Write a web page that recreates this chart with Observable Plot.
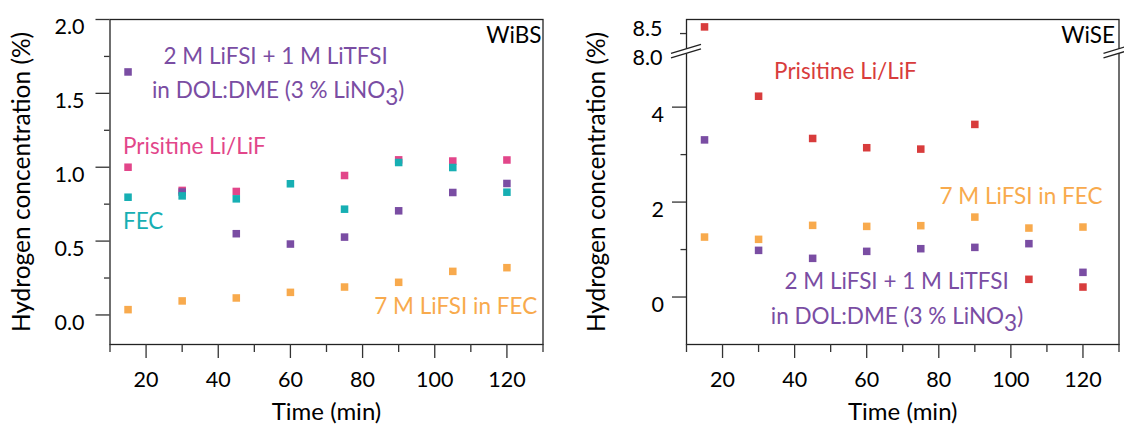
<!DOCTYPE html>
<html><head><meta charset="utf-8">
<script src="https://cdn.jsdelivr.net/npm/d3@7"></script>
<script src="https://cdn.jsdelivr.net/npm/@observablehq/plot@0.6"></script>
<style>
html,body{margin:0;padding:0;background:#fff;}
#wrap{display:flex;width:1124px;height:426px;overflow:hidden;}
#wrap svg{flex:none;}
</style></head><body><div id="wrap"></div>
<script>
// ---- data ----
const times = [15, 30, 45, 60, 75, 90, 105, 120];
// WiBS panel
const wibsDolDme   = [1.645, 0.832, 0.55, 0.48, 0.527, 0.705, 0.829, 0.89];
const wibsPristine = [1.0, 0.843, 0.836, null, 0.944, 1.05, 1.042, 1.049];
const wibsFec      = [0.797, 0.806, 0.786, 0.888, 0.716, 1.032, 0.998, 0.831];
const wibs7M       = [0.036, 0.095, 0.115, 0.153, 0.189, 0.221, 0.295, 0.32];
// WiSE panel
const wisePristine = [8.64, 4.23, 3.34, 3.145, 3.116, 3.636, 0.373, 0.21];
const wiseDolDme   = [3.31, 0.983, 0.815, 0.962, 1.018, 1.046, 1.124, 0.52];
const wise7M       = [1.263, 1.215, 1.51, 1.488, 1.503, 1.684, 1.453, 1.474];
// ticks
const xMajor = [20, 40, 60, 80, 100, 120];
const xMinor = [10, 30, 50, 70, 90, 110, 130];
const wibsYMajor = [0, 0.5, 1.0, 1.5, 2.0];
const wibsYMinor = [0.25, 0.75, 1.25, 1.75];
const wiseYMajor = [0, 2, 4];
const wiseYMinor = [1, 3];
const wiseYUpper = [8.5];
const wiseYBreakLabel = [8.0];
// labels
const wibsLabels = [
  {text: "WiBS", x: 129.6, y: 1.89, series: "black", anchor: "end"},
  {text: "2 M LiFSI + 1 M LiTFSI", x: 55.9, y: 1.748, series: "dol", anchor: "middle"},
  {text: "in DOL:DME (3 % LiNO3)", x: 56.6, y: 1.518, series: "dol", anchor: "middle"},
  {text: "Prisitine Li/LiF", x: 13.6, y: 1.14, series: "pristineW", anchor: "start"},
  {text: "FEC", x: 13.6, y: 0.633, series: "fec", anchor: "start"},
  {text: "7 M LiFSI in FEC", x: 128.4, y: 0.052, series: "m7", anchor: "end"}
];
const wiseLabels = [
  {text: "WiSE", x: 128.9, y: 8.46, series: "black", anchor: "end"},
  {text: "Prisitine Li/LiF", x: 34.3, y: 4.75, series: "pristineS", anchor: "start"},
  {text: "7 M LiFSI in FEC", x: 125.4, y: 2.105, series: "m7", anchor: "end"},
  {text: "2 M LiFSI + 1 M LiTFSI", x: 68.3, y: 0.316, series: "dol", anchor: "middle"},
  {text: "in DOL:DME (3 % LiNO3)", x: 68.4, y: -0.421, series: "dol", anchor: "middle"}
];
const xTitle = "Time (min)";
const yTitle = "Hydrogen concentration (%)";

// ---- styles ----
const colors = {dol: "#7a4da3", pristineW: "#e2468a", pristineS: "#d83c3c", fec: "#17afb3", m7: "#f8aa4d", black: "#000"};
const FONT = "Lato, 'Open Sans', sans-serif";
const breakShift = 2.95;      // values above the break are drawn shifted down by this
const breakAt = 5.17;         // break position in drawn units
const brk = v => v >= 6 ? v - breakShift : v;

function table(series, vals) {
  return times.map((t, i) => ({time: t, value: vals[i], color: colors[series]})).filter(d => d.value != null);
}

function axisMarks(yMajor, yMinor, yfmt, yLabelDx, yMap) {
  return [
    Plot.axisX(xMajor, {tickSize: 14, tickPadding: 13, label: null, stroke: "#333", strokeWidth: 1.3, fill: "black", fontSize: 21.5}),
    Plot.axisX(xMinor, {tickSize: 8, tickFormat: () => "", label: null, stroke: "#333", strokeWidth: 1.3}),
    Plot.axisY(yMajor.map(yMap), {tickSize: 14, tickFormat: () => "", label: null, stroke: "#333", strokeWidth: 1.3}),
    Plot.axisY(yMinor.map(yMap), {tickSize: 5.5, tickFormat: () => "", label: null, stroke: "#333", strokeWidth: 1.3}),
    Plot.text(yMajor, {y: yMap, frameAnchor: "left", textAnchor: "end", dx: yLabelDx, dy: 8, text: yfmt, fill: "black", fontSize: 21.5}),
    Plot.text([xTitle], {frameAnchor: "bottom", dy: 68, lineAnchor: "middle", text: d => d, fill: "black", fontSize: 24}),
  ];
}

function labelMarks(labels, yMap) {
  return ["start", "middle", "end"].map(a =>
    Plot.text(labels.filter(d => d.anchor === a), {x: "x", y: d => yMap(d.y), text: "text", textAnchor: a, fill: d => colors[d.series], lineAnchor: "middle", fontSize: 22.5})
  );
}

function fixSub(svg) {
  svg.querySelectorAll("text").forEach(t => {
    if (t.textContent === "in DOL:DME (3 % LiNO3)") {
      t.textContent = "in DOL:DME (3 % LiNO";
      const s = document.createElementNS("http://www.w3.org/2000/svg", "tspan");
      s.setAttribute("dy", "0.32em"); s.textContent = "3";
      const e = document.createElementNS("http://www.w3.org/2000/svg", "tspan");
      e.setAttribute("dy", "-0.32em"); e.textContent = ")";
      t.appendChild(s); t.appendChild(e);
    }
  });
}

const common = {
  width: 562, height: 426, marginTop: 19, marginBottom: 82,
  x: {domain: [10, 130]},
  color: {type: "identity"},
  style: {fontFamily: FONT, fontSize: "21.5px", color: "black", background: "white", overflow: "visible"}
};

// ---- left panel ----
const left = Plot.plot({
  ...common,
  marginLeft: 109.5, marginRight: 19.5,
  y: {domain: [-0.2, 2.0]},
  marks: [
    Plot.frame({stroke: "#222", strokeWidth: 1.3}),
    ...axisMarks(wibsYMajor, wibsYMinor, d => d3.format(".1f")(d), -25.5, d => d),
    Plot.text([yTitle], {frameAnchor: "left", textAnchor: "middle", dx: -87.5, rotate: -90, text: d => d, fill: "black", fontSize: 24.5}),
    Plot.dot(table("pristineW", wibsPristine), {x: "time", y: "value", fill: "color", symbol: "square", r: 4.25}),
    Plot.dot(table("dol", wibsDolDme), {x: "time", y: "value", fill: "color", symbol: "square", r: 4.25}),
    Plot.dot(table("fec", wibsFec), {x: "time", y: "value", fill: "color", symbol: "square", r: 4.25}),
    Plot.dot(table("m7", wibs7M), {x: "time", y: "value", fill: "color", symbol: "square", r: 4.25}),
    ...labelMarks(wibsLabels, d => d)
  ]
});

// ---- right panel ----
function breakMarks(index, scales, values, dims) {
  const ys = typeof scales.y === "function" ? scales.y : d3.scaleLinear([-1, 5.846], [dims.height - dims.marginBottom, dims.marginTop]);
  const y = ys(breakAt);
  const g = d3.create("svg:g");
  const xs = [dims.marginLeft, dims.width - dims.marginRight];
  for (const x0 of xs) {
    const half = 15, slope = 0.3, gap = 4.6;
    const yU = x => y - gap / 2 - (x - x0) * slope;
    const yL = x => y + gap / 2 - (x - x0) * slope;
    g.append("path")
      .attr("d", `M${x0 - half},${yU(x0 - half)}L${x0 + half},${yU(x0 + half)}L${x0 + half},${yL(x0 + half)}L${x0 - half},${yL(x0 - half)}Z`)
      .attr("fill", "white");
    for (const f of [yU, yL]) {
      g.append("line").attr("x1", x0 - half).attr("y1", f(x0 - half)).attr("x2", x0 + half).attr("y2", f(x0 + half))
        .attr("stroke", "#222").attr("stroke-width", 1.3);
    }
  }
  return g.node();
}

const right = Plot.plot({
  ...common,
  marginLeft: 124, marginRight: 5.5,
  y: {domain: [-1, 5.846]},
  marks: [
    Plot.frame({stroke: "#222", strokeWidth: 1.3}),
    ...axisMarks(wiseYMajor, wiseYMinor, d => String(d), -22.5, brk),
    Plot.axisY(wiseYUpper.map(brk), {tickSize: 6, tickFormat: () => "", label: null, stroke: "#333", strokeWidth: 1.3}),
    Plot.text(wiseYUpper, {y: brk, frameAnchor: "left", textAnchor: "end", dx: -24, dy: -4, text: d => d3.format(".1f")(d), fill: "black", fontSize: 21.5}),
    Plot.text(wiseYBreakLabel, {y: brk, frameAnchor: "left", textAnchor: "end", dx: -24, dy: 1, text: d => d3.format(".1f")(d), fill: "black", fontSize: 21.5}),
    breakMarks,
    Plot.text([yTitle], {frameAnchor: "left", textAnchor: "middle", dx: -89, rotate: -90, text: d => d, fill: "black", fontSize: 24.5}),
    Plot.dot(table("m7", wise7M), {x: "time", y: d => brk(d.value), fill: "color", symbol: "square", r: 4.25}),
    Plot.dot(table("dol", wiseDolDme), {x: "time", y: d => brk(d.value), fill: "color", symbol: "square", r: 4.25}),
    Plot.dot(table("pristineS", wisePristine), {x: "time", y: d => brk(d.value), fill: "color", symbol: "square", r: 4.25}),
    ...labelMarks(wiseLabels, brk)
  ]
});

fixSub(left); fixSub(right);
const wrap = document.getElementById("wrap");
wrap.appendChild(left); wrap.appendChild(right);
</script></body></html>
